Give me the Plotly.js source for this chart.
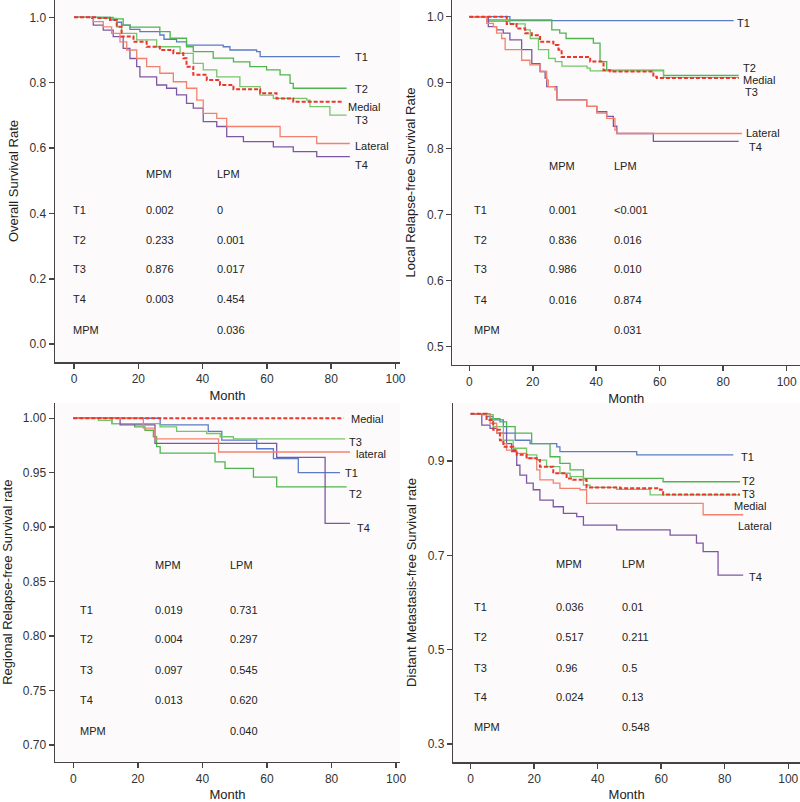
<!DOCTYPE html>
<html>
<head>
<meta charset="utf-8">
<script src="https://cdn.plot.ly/plotly-3.0.1.min.js"></script>
<style>html,body{margin:0;padding:0;background:#fff;}#chart{width:800px;height:802px;}</style>
</head>
<body>
<div id="chart"></div>
<script>
// ---------- DATA ----------
const seriesNames = ['T1', 'T2', 'T3', 'T4', 'Lateral', 'Medial'];
const rowLabels = ['T1', 'T2', 'T3', 'T4', 'MPM'];

// Panel A: Overall survival
const os_T1_t = [0, 11.2, 13.3, 14.8, 17.4, 20.5, 26.7, 28, 31.9, 35, 46.4, 48.5, 56.8, 57.9, 82.7];
const os_T1_s = [1, 0.992, 0.985, 0.976, 0.963, 0.956, 0.946, 0.933, 0.925, 0.915, 0.910, 0.900, 0.895, 0.880, 0.880];
const os_T2_t = [0, 12.2, 15.3, 17.5, 26.7, 29.9, 35, 37.1, 43.3, 49.6, 54.7, 59.9, 64.1, 67.2, 68.2, 84.8];
const os_T2_s = [1, 0.995, 0.976, 0.970, 0.956, 0.936, 0.910, 0.895, 0.875, 0.864, 0.849, 0.839, 0.824, 0.798, 0.783, 0.783];
const os_T3_t = [0, 8.1, 13.3, 14.8, 19.5, 25.7, 33, 37.1, 40.2, 44.4, 51.6, 57.9, 62, 72.4, 73.4, 79.6, 84.8];
const os_T3_s = [1, 0.997, 0.971, 0.951, 0.931, 0.910, 0.890, 0.859, 0.839, 0.818, 0.788, 0.762, 0.752, 0.747, 0.727, 0.701, 0.701];
const os_T4_t = [0, 5.5, 6, 9.1, 12.2, 15.3, 17.4, 19.5, 20.5, 25.7, 28.8, 31.9, 35, 37.1, 40.2, 44.4, 47.5, 52.7, 62, 68.2, 75.5, 85.8];
const os_T4_s = [1, 0.997, 0.976, 0.961, 0.941, 0.905, 0.874, 0.849, 0.818, 0.793, 0.783, 0.763, 0.737, 0.722, 0.681, 0.666, 0.635, 0.620, 0.604, 0.589, 0.574, 0.574];
const os_Lat_t = [0, 6, 9.1, 11.7, 14.3, 16.4, 19.5, 22.6, 26.7, 30.9, 35, 38.2, 40.2, 44.4, 47.5, 64.1, 75.5, 85.8];
const os_Lat_s = [1, 0.987, 0.971, 0.951, 0.925, 0.900, 0.874, 0.849, 0.829, 0.803, 0.783, 0.747, 0.706, 0.691, 0.666, 0.635, 0.614, 0.614];
const os_Med_t = [0, 7.1, 11.2, 13.3, 14.8, 18.5, 22.6, 26.7, 30.9, 34, 35, 37.1, 41.3, 45.4, 49.6, 57.9, 63, 68.2, 83.8];
const os_Med_s = [1, 0.998, 0.992, 0.971, 0.941, 0.925, 0.910, 0.900, 0.890, 0.875, 0.849, 0.824, 0.808, 0.793, 0.780, 0.768, 0.752, 0.742, 0.742];
const os_MPM = ['0.002', '0.233', '0.876', '0.003', ''];
const os_LPM = ['0', '0.001', '0.017', '0.454', '0.036'];

// Panel B: Local relapse-free survival
const lr_T1_t = [0, 12.8, 83.3];
const lr_T1_s = [1, 0.994, 0.994];
const lr_T2_t = [0, 5.5, 26, 28.5, 30.5, 39.1, 41.2, 43.3, 61.2, 84.9];
const lr_T2_s = [1, 0.995, 0.980, 0.975, 0.967, 0.960, 0.932, 0.919, 0.911, 0.911];
const lr_T3_t = [0, 5.5, 12.8, 17.6, 19.2, 21.8, 25, 27.1, 29.2, 37.1, 38.1, 61.2, 84.9];
const lr_T3_s = [1, 0.993, 0.989, 0.980, 0.967, 0.950, 0.937, 0.932, 0.925, 0.922, 0.918, 0.908, 0.908];
const lr_T4_t = [0, 6, 8.6, 10.7, 12.8, 16.5, 19.7, 22.3, 23.9, 24.4, 27.6, 37, 40.2, 43.3, 45.4, 46.5, 58, 84.9];
const lr_T4_s = [1, 0.985, 0.980, 0.975, 0.965, 0.950, 0.929, 0.917, 0.907, 0.894, 0.874, 0.864, 0.856, 0.849, 0.834, 0.823, 0.811, 0.811];
const lr_Lat_t = [0, 5.5, 7.6, 8.6, 10.2, 11.3, 16.5, 19.1, 22.3, 24.4, 24.9, 27, 27.6, 37, 40.2, 43.3, 45.9, 46.5, 85.9];
const lr_Lat_s = [1, 0.990, 0.985, 0.975, 0.967, 0.950, 0.934, 0.927, 0.917, 0.904, 0.894, 0.889, 0.874, 0.864, 0.854, 0.846, 0.828, 0.823, 0.823];
const lr_Med_t = [0, 11.8, 14.9, 17.6, 19.7, 22.3, 26.5, 28.1, 29.1, 38.1, 42.3, 44.4, 58, 59.1, 84.9];
const lr_Med_s = [1, 0.989, 0.982, 0.975, 0.972, 0.962, 0.957, 0.950, 0.939, 0.932, 0.919, 0.917, 0.909, 0.907, 0.907];
const lr_MPM = ['0.001', '0.836', '0.986', '0.016', ''];
const lr_LPM = ['&lt;0.001', '0.016', '0.010', '0.874', '0.031'];

// Panel C: Regional relapse-free survival
const rr_T1_t = [0, 26.9, 41.8, 46, 56.8, 62, 69.7, 82.6];
const rr_T1_s = [1, 0.994, 0.988, 0.980, 0.972, 0.963, 0.950, 0.950];
const rr_T2_t = [0, 12, 19, 22.2, 24.8, 25.8, 26.9, 43.9, 47, 55.8, 63, 84.7];
const rr_T2_s = [1, 0.995, 0.992, 0.989, 0.983, 0.974, 0.968, 0.960, 0.954, 0.946, 0.937, 0.937];
const rr_T3_t = [0, 7.8, 11.9, 26.9, 32, 41.3, 45.5, 49.6, 84.2];
const rr_T3_s = [1, 0.998, 0.995, 0.992, 0.988, 0.986, 0.983, 0.981, 0.981];
const rr_T4_t = [0, 14.5, 25.3, 63, 78, 85.7];
const rr_T4_s = [1, 0.994, 0.977, 0.964, 0.9035, 0.9035];
const rr_Lat_t = [0, 21.7, 25.3, 45, 85.7];
const rr_Lat_s = [1, 0.991, 0.981, 0.969, 0.969];
const rr_Med_t = [0, 83.7];
const rr_Med_s = [1, 1];
const rr_MPM = ['0.019', '0.004', '0.097', '0.013', ''];
const rr_LPM = ['0.731', '0.297', '0.545', '0.620', '0.040'];

// Panel D: Distant metastasis-free survival
const dm_T1_t = [0, 5, 7.1, 10.3, 11.3, 14, 18.7, 27.1, 28.1, 52.3, 82.7];
const dm_T1_s = [1, 0.994, 0.987, 0.973, 0.959, 0.944, 0.937, 0.930, 0.920, 0.913, 0.913];
const dm_T2_t = [0, 6.1, 9.2, 11.3, 14, 19.2, 25, 28.1, 31.3, 35.5, 60.6, 84.8];
const dm_T2_s = [1, 0.990, 0.983, 0.973, 0.959, 0.937, 0.909, 0.895, 0.881, 0.863, 0.856, 0.856];
const dm_T3_t = [0, 4, 7.1, 10.3, 13.4, 17.6, 20.8, 23.9, 28.1, 31.3, 35.5, 37.6, 46, 56.5, 84.8];
const dm_T3_s = [1, 0.998, 0.973, 0.944, 0.927, 0.913, 0.902, 0.888, 0.874, 0.867, 0.849, 0.844, 0.840, 0.828, 0.828];
const dm_T4_t = [0, 3.5, 6.1, 8.2, 11.3, 12.9, 14.5, 15.5, 17.6, 19.7, 21.8, 26, 29.2, 33.4, 35.5, 46, 62.8, 71.1, 73.2, 77.9, 85.8];
const dm_T4_s = [1, 0.976, 0.969, 0.959, 0.937, 0.920, 0.891, 0.870, 0.853, 0.839, 0.817, 0.803, 0.789, 0.782, 0.764, 0.754, 0.743, 0.726, 0.708, 0.658, 0.658];
const dm_Lat_t = [0, 6.1, 8.2, 10.3, 11.3, 14.5, 17.6, 20.8, 21.8, 26, 28.1, 34.4, 36.5, 73.2, 85.8];
const dm_Lat_s = [1, 0.980, 0.959, 0.937, 0.923, 0.916, 0.906, 0.881, 0.860, 0.853, 0.842, 0.839, 0.810, 0.786, 0.786];
const dm_Med_t = [0, 5, 7.1, 9.2, 10.3, 13.4, 14.5, 17.6, 20.8, 21.8, 26, 30.2, 32.3, 36.5, 47, 59.6, 60.6, 84.8];
const dm_Med_s = [1, 0.987, 0.966, 0.944, 0.930, 0.923, 0.913, 0.906, 0.902, 0.888, 0.874, 0.863, 0.860, 0.844, 0.842, 0.839, 0.829, 0.829];
const dm_MPM = ['0.036', '0.517', '0.96', '0.024', ''];
const dm_LPM = ['0.01', '0.211', '0.5', '0.13', '0.548'];

// ---------- STYLE ----------
const FONT = 'Liberation Sans, Arial, Helvetica, sans-serif';
const colors = {T1: '#5a7cc6', T2: '#4fb54f', T3: '#74c66a', T4: '#7c58a4', Lateral: '#f2826e', Medial: '#e8372b'};

const panels = [
  {xa: 'x', ya: 'y', data: {T1: [os_T1_t, os_T1_s], T2: [os_T2_t, os_T2_s], T3: [os_T3_t, os_T3_s], T4: [os_T4_t, os_T4_s], Lateral: [os_Lat_t, os_Lat_s], Medial: [os_Med_t, os_Med_s]},
   mpm: os_MPM, lpm: os_LPM,
   tbl: {lx: -0.8, mx: 21.8, px: 43.8, hy: 0.522, rows: [0.411, 0.319, 0.230, 0.139, 0.044]},
   labels: {T1: [86.8, 0.879, 'T1'], T2: [86.8, 0.781, 'T2'], Medial: [84.6, 0.726, 'Medial'], T3: [86.8, 0.686, 'T3'], Lateral: [86.8, 0.606, 'Lateral'], T4: [86.8, 0.548, 'T4']}},
  {xa: 'x2', ya: 'y2', data: {T1: [lr_T1_t, lr_T1_s], T2: [lr_T2_t, lr_T2_s], T3: [lr_T3_t, lr_T3_s], T4: [lr_T4_t, lr_T4_s], Lateral: [lr_Lat_t, lr_Lat_s], Medial: [lr_Med_t, lr_Med_s]},
   mpm: lr_MPM, lpm: lr_LPM,
   tbl: {lx: 0.8, mx: 24.4, px: 44.9, hy: 0.774, rows: [0.707, 0.662, 0.617, 0.571, 0.525]},
   labels: {T1: [83.6, 0.990, 'T1'], T2: [85.7, 0.922, 'T2'], Medial: [85.7, 0.904, 'Medial'], T3: [86.2, 0.886, 'T3'], Lateral: [86.6, 0.824, 'Lateral'], T4: [87.6, 0.803, 'T4']}},
  {xa: 'x3', ya: 'y3', data: {T1: [rr_T1_t, rr_T1_s], T2: [rr_T2_t, rr_T2_s], T3: [rr_T3_t, rr_T3_s], T4: [rr_T4_t, rr_T4_s], Lateral: [rr_Lat_t, rr_Lat_s], Medial: [rr_Med_t, rr_Med_s]},
   mpm: rr_MPM, lpm: rr_LPM,
   tbl: {lx: 1.3, mx: 24.6, px: 48, hy: 0.865, rows: [0.824, 0.797, 0.769, 0.741, 0.713]},
   labels: {Medial: [85.5, 0.999, 'Medial'], T3: [84.8, 0.978, 'T3'], Lateral: [87, 0.967, 'lateral'], T1: [83.6, 0.950, 'T1'], T2: [84.8, 0.930, 'T2'], T4: [87.3, 0.899, 'T4']}},
  {xa: 'x4', ya: 'y4', data: {T1: [dm_T1_t, dm_T1_s], T2: [dm_T2_t, dm_T2_s], T3: [dm_T3_t, dm_T3_s], T4: [dm_T4_t, dm_T4_s], Lateral: [dm_Lat_t, dm_Lat_s], Medial: [dm_Med_t, dm_Med_s]},
   mpm: dm_MPM, lpm: dm_LPM,
   tbl: {lx: 0.3, mx: 26.2, px: 47, hy: 0.681, rows: [0.590, 0.526, 0.461, 0.399, 0.335]},
   labels: {T1: [84.6, 0.909, 'T1'], T2: [84.8, 0.858, 'T2'], T3: [84.8, 0.829, 'T3'], Medial: [82.2, 0.805, 'Medial'], Lateral: [83.5, 0.762, 'Lateral'], T4: [86.9, 0.653, 'T4']}}
];

const traces = [];
const annotations = [];
panels.forEach(p => {
  seriesNames.forEach(name => {
    const d = p.data[name];
    traces.push({
      x: d[0], y: d[1], xaxis: p.xa, yaxis: p.ya, type: 'scatter', mode: 'lines',
      name: name, showlegend: false, hoverinfo: 'skip',
      line: {shape: 'hv', color: colors[name], width: name === 'Medial' ? 2 : 1.3, dash: name === 'Medial' ? '4px,2px' : 'solid'}
    });
    const lb = p.labels[name];
    annotations.push({xref: p.xa, yref: p.ya, x: lb[0], y: lb[1], text: lb[2], showarrow: false, xanchor: 'left', yanchor: 'middle',
      font: {family: FONT, size: 11, color: '#222'}});
  });
  const t = p.tbl;
  annotations.push({xref: p.xa, yref: p.ya, x: t.mx, y: t.hy, text: 'MPM', showarrow: false, xanchor: 'left', yanchor: 'middle', font: {family: FONT, size: 11, color: '#222'}});
  annotations.push({xref: p.xa, yref: p.ya, x: t.px, y: t.hy, text: 'LPM', showarrow: false, xanchor: 'left', yanchor: 'middle', font: {family: FONT, size: 11, color: '#222'}});
  rowLabels.forEach((r, i) => {
    annotations.push({xref: p.xa, yref: p.ya, x: t.lx, y: t.rows[i], text: r, showarrow: false, xanchor: 'left', yanchor: 'middle', font: {family: FONT, size: 11, color: '#222'}});
    if (p.mpm[i]) annotations.push({xref: p.xa, yref: p.ya, x: t.mx, y: t.rows[i], text: p.mpm[i], showarrow: false, xanchor: 'left', yanchor: 'middle', font: {family: FONT, size: 11, color: '#222'}});
    if (p.lpm[i]) annotations.push({xref: p.xa, yref: p.ya, x: t.px, y: t.rows[i], text: p.lpm[i], showarrow: false, xanchor: 'left', yanchor: 'middle', font: {family: FONT, size: 11, color: '#222'}});
  });
});

function xax(domain, range, anchor) {
  return {domain: domain, range: range, anchor: anchor, tickmode: 'array', tickvals: [0, 20, 40, 60, 80, 100],
    ticks: 'outside', ticklen: 5, tickwidth: 1.5, tickcolor: '#444', showgrid: false, zeroline: false,
    showline: true, linecolor: '#444', linewidth: 1.5, tickfont: {family: FONT, size: 12, color: '#333'},
    title: {text: 'Month', font: {family: FONT, size: 13, color: '#222'}, standoff: 6}};
}
function yax(domain, range, anchor, vals, fmt, title) {
  return {domain: domain, range: range, anchor: anchor, tickmode: 'array', tickvals: vals, tickformat: fmt,
    ticks: 'outside', ticklen: 5, tickwidth: 1.5, tickcolor: '#444', showgrid: false, zeroline: false,
    showline: true, linecolor: '#444', linewidth: 1.5, tickfont: {family: FONT, size: 12, color: '#333'},
    title: {text: title, font: {family: FONT, size: 13, color: '#222'}, standoff: 8}};
}

const layout = {
  width: 800, height: 802, margin: {l: 0, r: 0, t: 0, b: 0},
  paper_bgcolor: '#ffffff', plot_bgcolor: '#fdfafb',
  font: {family: FONT},
  xaxis: xax([0.06875, 0.5], [-5.91, 101.4], 'y'),
  yaxis: yax([0.5486, 1], [-0.0544, 1.053], 'x', [0, 0.2, 0.4, 0.6, 0.8, 1.0], '.1f', 'Overall Survival Rate'),
  xaxis2: xax([0.5656, 1], [-5.29, 104.2], 'y2'),
  yaxis2: yax([0.5449, 1], [0.4723, 1.0253], 'x2', [0.5, 0.6, 0.7, 0.8, 0.9, 1.0], '.1f', 'Local Relapse-free Survival Rate'),
  xaxis3: xax([0.06875, 0.5], [-5.67, 101.2], 'y3'),
  yaxis3: yax([0.0503, 0.4979], [0.6847, 1.0143], 'x3', [0.70, 0.75, 0.80, 0.85, 0.90, 0.95, 1.00], '.2f', 'Regional Relapse-free Survival rate'),
  xaxis4: xax([0.5666, 1], [-5.48, 103.7], 'y4'),
  yaxis4: yax([0.0495, 0.4979], [0.2612, 1.0236], 'x4', [0.3, 0.5, 0.7, 0.9], '.1f', 'Distant Metastasis-free Survival rate'),
  annotations: annotations
};

Plotly.newPlot('chart', traces, layout, {displayModeBar: false, staticPlot: true});
</script>
</body>
</html>
